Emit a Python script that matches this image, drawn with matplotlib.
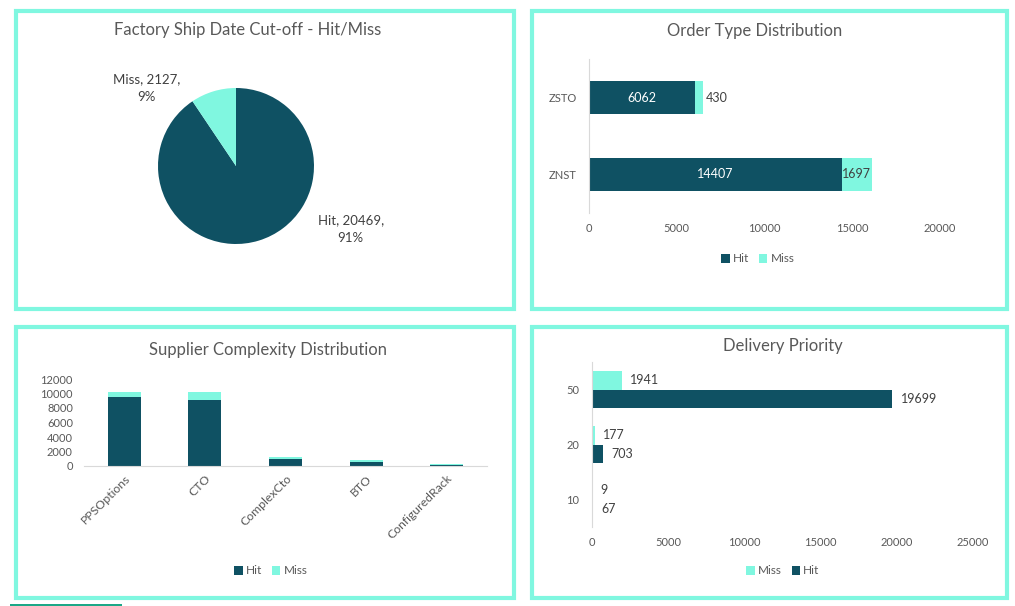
"""Hit/Miss dashboard: four panels recreated with matplotlib."""

import matplotlib
matplotlib.use("Agg")
import matplotlib.pyplot as plt  # noqa: E402
from matplotlib.patches import Rectangle  # noqa: E402

# ---- data ----
pie_labels = ["Hit", "Miss"]
pie_values = [20469, 2127]

order_types = ["ZNST", "ZSTO"]
order_hit = [14407, 6062]
order_miss = [1697, 430]

supplier_cats = ["PPSOptions", "CTO", "ComplexCto", "BTO", "ConfiguredRack"]
supplier_hit = [9450, 9050, 960, 560, 110]
supplier_miss = [820, 1100, 270, 260, 140]

priority_cats = ["10", "20", "50"]
priority_hit = [67, 703, 19699]
priority_miss = [9, 177, 1941]

# ---- style ----
DARK = "#0F5163"
LIGHT = "#80F7E0"
BORDER = "#80F7E0"
GREY = "#595959"
W, H = 1015, 606

plt.rcParams["font.family"] = ["Lato", "DejaVu Sans"]
plt.rcParams["text.color"] = GREY

fig = plt.figure(figsize=(W / 100, H / 100), dpi=100)
fig.patch.set_facecolor("white")


def px_axes(left, top, right, bottom):
    return fig.add_axes([left / W, 1 - bottom / H, (right - left) / W, (bottom - top) / H])


def fx(x):
    return x / W


def fy(y):
    return 1 - y / H


def panel(left, top, right, bottom):
    fig.add_artist(Rectangle((fx(left), fy(bottom)), (right - left) / W, (bottom - top) / H,
                             transform=fig.transFigure, fill=False, lw=3, ec=BORDER))


panel(15.5, 11, 514, 308.5)
panel(531.5, 11, 1006.5, 308.5)
panel(15.5, 326.5, 514, 598)
panel(531.5, 326.5, 1006.5, 598)
fig.add_artist(Rectangle((fx(10), fy(606)), 112 / W, 2.5 / H,
                         transform=fig.transFigure, color="#1BA887", lw=0))


def clean(ax):
    for s in ax.spines.values():
        s.set_visible(False)
    ax.tick_params(length=0, colors=GREY, labelsize=8)


def legend(ax, x, y, order):
    handles, labels = ax.get_legend_handles_labels()
    lookup = dict(zip(labels, handles))
    ax.legend([lookup[k] for k in order], order, loc="center",
              bbox_to_anchor=(fx(x), fy(y)), bbox_transform=fig.transFigure,
              ncol=len(order), frameon=False, fontsize=8.5, handlelength=0.7,
              handleheight=0.7, handletextpad=0.3, columnspacing=0.8, labelcolor=GREY)


# ---- pie ----
ax = px_axes(158, 88, 314, 244)
ax.pie(pie_values, colors=[DARK, LIGHT], startangle=90, counterclock=False,
       wedgeprops=dict(linewidth=0))
ax.set_xlim(-1, 1)
ax.set_ylim(-1, 1)
total = sum(pie_values)
pct = [round(v / total * 100) for v in pie_values]
ax.text(1.47, -0.81, f"{pie_labels[0]}, {pie_values[0]},\n{pct[0]}%", ha="center", va="center",
        fontsize=9.5, color="#404040", linespacing=1.55)
ax.text(-1.15, 1.0, f"{pie_labels[1]}, {pie_values[1]},\n{pct[1]}%", ha="center", va="center",
        fontsize=9.5, color="#404040", linespacing=1.55)
fig.text(fx(248), fy(30), "Factory Ship Date Cut-off - Hit/Miss", ha="center", va="center",
         fontsize=12, color=GREY)

# ---- order type ----
ax = px_axes(589, 59, 940, 213)
y = range(len(order_types))
ax.barh(y, order_hit, height=0.42, color=DARK, label="Hit")
ax.barh(y, order_miss, left=order_hit, height=0.42, color=LIGHT, label="Miss")
ax.set_xlim(0, 20000)
ax.set_ylim(-0.5, 1.5)
ax.set_yticks(list(y), order_types)
ax.set_xticks(range(0, 20001, 5000))
clean(ax)
ax.spines["left"].set_visible(True)
ax.spines["left"].set_color("#D9D9D9")
ax.tick_params(axis="y", pad=9)
ax.tick_params(axis="x", pad=7)
for i, (h, m) in enumerate(zip(order_hit, order_miss)):
    ax.text(h / 2, i, str(h), ha="center", va="center", color="white", fontsize=9)
    if m > 1000:
        ax.text(h + m / 2, i, str(m), ha="center", va="center", color="#404040", fontsize=9)
    else:
        ax.text(h + m + 150, i, str(m), ha="left", va="center", color="#404040", fontsize=9)
fig.text(fx(755), fy(31), "Order Type Distribution", ha="center", va="center",
         fontsize=12, color=GREY)
legend(ax, 758, 259, ["Hit", "Miss"])

# ---- supplier complexity ----
ax = px_axes(84, 379, 487, 466)
x = range(len(supplier_cats))
ax.bar(x, supplier_hit, width=0.41, color=DARK, label="Hit")
ax.bar(x, supplier_miss, bottom=supplier_hit, width=0.41, color=LIGHT, label="Miss")
ax.set_ylim(0, 12000)
ax.set_xlim(-0.5, len(supplier_cats) - 0.5)
ax.set_yticks(range(0, 12001, 2000))
ax.set_xticks(list(x), supplier_cats, rotation=45, ha="right", rotation_mode="anchor")
clean(ax)
ax.spines["bottom"].set_visible(True)
ax.spines["bottom"].set_color("#D9D9D9")
ax.tick_params(axis="y", pad=8)
ax.tick_params(axis="x", pad=5, labelsize=8.8)
fig.text(fx(268), fy(350), "Supplier Complexity Distribution", ha="center", va="center",
         fontsize=12, color=GREY)
legend(ax, 271, 571, ["Hit", "Miss"])

# ---- delivery priority ----
ax = px_axes(592, 362, 973, 527)
y = range(len(priority_cats))
hb = ax.barh([i - 0.165 for i in y], priority_hit, height=0.33, color=DARK, label="Hit")
mb = ax.barh([i + 0.165 for i in y], priority_miss, height=0.33, color=LIGHT, label="Miss")
ax.bar_label(hb, padding=6, fontsize=9, color="#404040")
ax.bar_label(mb, padding=6, fontsize=9, color="#404040")
ax.set_xlim(0, 25000)
ax.set_ylim(-0.5, 2.5)
ax.set_yticks(list(y), priority_cats)
ax.set_xticks(range(0, 25001, 5000))
clean(ax)
ax.spines["left"].set_visible(True)
ax.spines["left"].set_color("#D9D9D9")
ax.tick_params(axis="y", pad=9)
ax.tick_params(axis="x", pad=7)
fig.text(fx(783), fy(346), "Delivery Priority", ha="center", va="center",
         fontsize=12, color=GREY)
legend(ax, 783, 571, ["Miss", "Hit"])

fig.savefig("out.png", dpi=100)
plt.close(fig)
